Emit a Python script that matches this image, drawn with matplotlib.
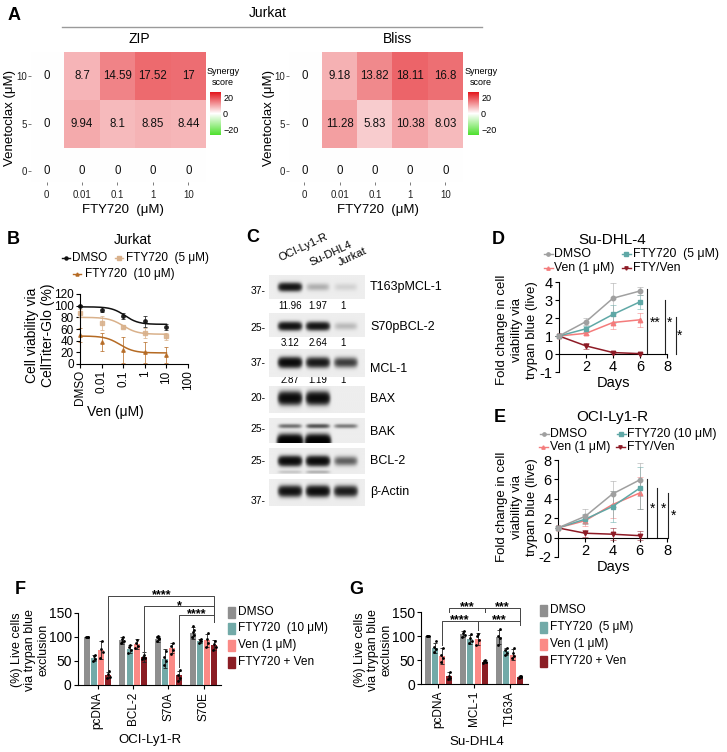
import numpy as np
import matplotlib
matplotlib.use("Agg")
import matplotlib.pyplot as plt
from matplotlib import font_manager
from matplotlib.colors import LinearSegmentedColormap, Normalize
from matplotlib.cm import ScalarMappable
from matplotlib.patches import Rectangle

W, H = 727, 752
_names = {f.name for f in font_manager.fontManager.ttflist}
SANS = "Liberation Sans" if "Liberation Sans" in _names else "DejaVu Sans"
NARROW = "Liberation Sans Narrow" if "Liberation Sans Narrow" in _names else SANS
plt.rcParams["font.family"] = [SANS, "DejaVu Sans"]
plt.rcParams["axes.unicode_minus"] = False
plt.rcParams["axes.linewidth"] = 0.8
plt.rcParams["xtick.major.width"] = 0.8
plt.rcParams["ytick.major.width"] = 0.8

# ======================= DATA =======================
# --- A: synergy heatmaps (rows: Ven 0, 5, 10 ; cols: FTY720 doses)
fty_doses = ["0", "0.01", "0.1", "1", "10"]
ven_doses = ["0", "5", "10"]
zip_scores = [[0, 0, 0, 0, 0], [0, 9.94, 8.1, 8.85, 8.44], [0, 8.7, 14.59, 17.52, 17]]
bliss_scores = [[0, 0, 0, 0, 0], [0, 11.28, 5.83, 10.38, 8.03], [0, 9.18, 13.82, 18.11, 16.8]]
synergy_ticks = [20, 0, -20]
synergy_ticklabels = ["20", "0", "\u221220"]

# --- B: Jurkat dose response
b_conc = [0.001, 0.01, 0.1, 1, 10]
b_tick_vals = [0.001, 0.01, 0.1, 1, 10, 100]
b_tick_labels = ["DMSO", "0.01", "0.1", "1", "10", "100"]
b_series = ["DMSO", "FTY720  (5 \u03bcM)", "FTY720  (10 \u03bcM)"]
b_mean = [[99, 93, 82, 73, 63], [88, 70, 64, 53, 48], [50, 38, 24, 20, 16]]
b_sd = [[2, 4, 5, 9, 5], [7, 12, 3, 9, 6], [12, 16, 23, 18, 14]]
b_top = [98, 80, 48]
b_bottom = [68, 51, 19]
b_ec50 = [0.12, 0.1, 0.07]
b_hill = [1.4, 1.3, 1.3]

# --- C: western blot
blot_lanes = ["OCI-Ly1-R", "Su-DHL4", "Jurkat"]
blot_targets = ["T163pMCL-1", "S70pBCL-2", "MCL-1", "BAX", "BAK", "BCL-2", "\u03b2-Actin"]
blot_kda = ["37-", "25-", "37-", "20-", "25-", "25-", "37-"]
band_main = [[0.8, 0.1, 0.04], [0.85, 0.8, 0.08], [1.0, 0.75, 0.45], [1.0, 1.0, 0.0],
             [0.25, 0.35, 0.22], [1.0, 1.0, 0.3], [0.85, 0.95, 0.7]]
band_extra = [None, None, None, None, [1.6, 1.6, 0.0], [0.06, 0.1, 0.0], None]
blot_quant = [["11.96", "1.97", "1"], ["3.12", "2.64", "1"], ["2.87", "1.19", "1"],
              None, None, None, None]

# --- D / E: fold change over days
days = [0, 2, 4, 6]
d_mean = [[1, 1.8, 3.1, 3.5], [1, 1.4, 2.2, 2.9], [1, 1.15, 1.75, 1.9], [1, 0.45, 0.08, 0.02]]
d_sd = [[0, 0.2, 0.85, 0.2], [0, 0.15, 0.5, 0.4], [0, 0.1, 0.35, 0.4], [0, 0.15, 0.05, 0.03]]
e_mean = [[1, 2.2, 4.5, 5.95], [1, 1.9, 3.2, 5.1], [1, 1.75, 3.4, 4.6], [1, 0.45, 0.35, 0.2]]
e_sd = [[0, 0.7, 1.3, 1.7], [0, 0.5, 1.6, 2.2], [0, 0.6, 1.4, 1.6], [0, 0.35, 0.6, 0.45]]

# --- F: OCI-Ly1-R live cells
f_groups = ["pcDNA", "BCL-2", "S70A", "S70E"]
f_labels = ["DMSO", "FTY720  (10 \u03bcM)", "Ven (1 \u03bcM)", "FTY720 + Ven"]
f_mean = [[100, 93, 96, 108], [57, 75, 55, 92], [73, 85, 77, 93], [21, 58, 20, 83]]
f_sd = [[0, 7, 6, 12], [6, 8, 20, 4], [18, 10, 10, 13], [7, 10, 10, 10]]
f_pts = [
    [[100, 100, 100, 100], [88, 91, 96, 100, 90], [92, 96, 100, 98, 103], [100, 105, 110, 115, 122]],
    [[50, 55, 60, 63], [66, 72, 80, 84], [42, 50, 58, 70], [88, 91, 93, 95]],
    [[57, 68, 76, 92], [78, 82, 88, 93], [65, 73, 82, 88], [80, 88, 95, 108]],
    [[14, 17, 22, 30], [55, 57, 58, 62], [9, 15, 21, 32], [72, 80, 85, 92]],
]

# --- G: Su-DHL4 live cells
g_groups = ["pcDNA", "MCL-1", "T163A"]
g_labels = ["DMSO", "FTY720  (5 \u03bcM)", "Ven (1 \u03bcM)", "FTY720 + Ven"]
g_mean = [[100, 104, 98], [75, 93, 68], [58, 94, 61], [16, 46, 15]]
g_sd = [[0, 6, 14], [10, 10, 8], [17, 12, 12], [8, 3, 2]]
g_pts = [
    [[100, 100, 100, 100], [98, 102, 106, 110], [82, 95, 100, 115]],
    [[66, 72, 78, 90], [85, 90, 95, 105], [61, 65, 70, 76]],
    [[45, 55, 60, 75], [82, 92, 100, 104], [55, 58, 64, 75]],
    [[10, 13, 16, 25], [43, 45, 47, 49], [13, 15, 16, 17]],
]

# ======================= STYLE =======================
BAR_COLORS = ["#8f8f8f", "#72aaa8", "#fb8a86", "#8b1d24"]
DE_COLORS = ["#a0a0a0", "#5fa8a6", "#f47c7c", "#8e1b26"]
DE_MARKERS = ["o", "s", "^", "v"]
B_COLORS = ["#111111", "#d9b18b", "#b56a23"]
B_MARKERS = ["o", "s", "^"]

fig = plt.figure(figsize=(W / 100, H / 100), dpi=100)


def px_axes(l, t, r, b):
    return fig.add_axes([l / W, 1 - b / H, (r - l) / W, (b - t) / H])


ov = px_axes(0, 0, W, H)
ov.set_xlim(0, W)
ov.set_ylim(H, 0)
ov.axis("off")


def T(x, y, s, **kw):
    kw.setdefault("ha", "center")
    kw.setdefault("va", "center")
    ov.text(x, y, s, **kw)


for letter, (x, y) in zip("ABCDEFG", [(14, 15), (13, 240), (253, 238), (498, 240),
                                       (500, 417), (20, 590), (356, 590)]):
    T(x, y, letter, fontsize=13, fontweight="bold")

# ======================= A =======================
cmap = LinearSegmentedColormap.from_list("syn", ["#4ee02e", "#ffffff", "#e3161d"])
norm = Normalize(-27.5, 27.5)

T(268, 13, "Jurkat", fontsize=10, family=NARROW)
ov.plot([62, 482], [27, 27], color="#9a9a9a", lw=1)


def heatmap(left, right, scores, title, title_x, cb_left, xlab_x, ylab_x):
    ax = px_axes(left, 52, right, 182)
    arr = np.array(scores, dtype=float)
    ax.imshow(arr, cmap=cmap, norm=norm, origin="lower", extent=(-0.5, 4.5, -0.5, 2.5),
              aspect="auto", interpolation="nearest")
    ax.set_xlim(-0.44, 4.5)
    ax.set_ylim(-0.22, 2.5)
    for i in range(arr.shape[0]):
        for j in range(arr.shape[1]):
            ax.text(j, i, f"{arr[i, j]:g}", ha="center", va="center", fontsize=8.3,
                    family=NARROW, color="#111")
    ax.set_xticks(range(len(fty_doses)), fty_doses, family=NARROW)
    ax.set_yticks(range(len(ven_doses)), ven_doses, family=NARROW)
    ax.tick_params(length=2, width=0.6, color="#666", labelsize=7, labelcolor="#222", pad=1)
    ax.tick_params(axis="x", pad=4)
    for s in ax.spines.values():
        s.set_visible(False)
    cax = px_axes(cb_left, 92, cb_left + 11, 135)
    cb = fig.colorbar(ScalarMappable(norm=norm, cmap=cmap), cax=cax)
    cb.outline.set_visible(False)
    cb.set_ticks(synergy_ticks, labels=synergy_ticklabels)
    cax.tick_params(length=0, labelsize=6.5, pad=1.5)
    for lab in cax.get_yticklabels():
        lab.set_family(NARROW)
    T(cb_left + 13, 77, "Synergy\nscore", fontsize=6.5, family=NARROW, linespacing=1.4)
    T(title_x, 39, title, fontsize=10, family=NARROW)
    T(xlab_x, 210, "FTY720  (\u03bcM)", fontsize=9.5, family=NARROW)
    T(ylab_x, 118, "Venetoclax (\u03bcM)", fontsize=9.5, family=NARROW, rotation=90)


heatmap(31, 206, zip_scores, "ZIP", 139, 210, 123, 10)
heatmap(289, 463, bliss_scores, "Bliss", 398, 468, 378, 269)

# ======================= B =======================
T(133, 240, "Jurkat", fontsize=10)
axb = px_axes(80, 294, 188, 364)
xs = np.logspace(-3, 1, 200)
for k in range(3):
    fit = b_bottom[k] + (b_top[k] - b_bottom[k]) / (1 + (xs / b_ec50[k]) ** b_hill[k])
    axb.plot(xs, fit, color=B_COLORS[k], lw=1.1, clip_on=False)
    axb.errorbar(b_conc, b_mean[k], yerr=b_sd[k], fmt=B_MARKERS[k], ms=2.5, color=B_COLORS[k],
                 ecolor=B_COLORS[k], elinewidth=0.6, capsize=1.5, capthick=0.6, alpha=0.85,
                 clip_on=False)
axb.set_xscale("log")
axb.set_xlim(0.001, 100)
axb.set_ylim(0, 120)
axb.set_yticks(range(0, 121, 20))
axb.set_xticks(b_tick_vals, b_tick_labels, rotation=90)
axb.minorticks_off()
axb.tick_params(labelsize=8.5, length=3, pad=1.5)
axb.spines[["top", "right"]].set_visible(False)
T(115, 412, "Ven (\u03bcM)", fontsize=10)
T(40, 335, "Cell viability via\nCellTiter-Glo (%)", fontsize=10, rotation=90,
  multialignment="center", linespacing=1.25)
for (hx, hy, tx), k in zip([(66, 258, 72), (119, 258, 126), (77, 274, 85)], range(3)):
    ov.plot([hx - 4, hx + 4], [hy, hy], color=B_COLORS[k], lw=1)
    ov.plot([hx], [hy], B_MARKERS[k], ms=2.2, color=B_COLORS[k])
    T(tx, hy, b_series[k], ha="left", fontsize=8.5)

# ======================= C =======================
blot_tops = [275, 313, 349, 386, 418, 448, 479]
blot_bots = [299, 337, 377, 413, 443, 474, 506]
main_y = [0.5, 0.55, 0.5, 0.45, 0.32, 0.5, 0.45]
main_sy = [0.15, 0.15, 0.15, 0.2, 0.08, 0.16, 0.17]
extra_y = [None, None, None, None, 0.95, 0.93, None]
extra_sy = [None, None, None, None, 0.22, 0.06, None]
kda_y = [291, 328, 363, 398, 429, 461, 501]
tgt_y = [287, 327, 369, 399, 432, 461, 492]
quant_y = [306, 343, 380]
lane_px = [290, 318, 346]

nx, ny = 240, 60
gx_ = np.linspace(-0.75, 2.68, nx)
gy_ = np.linspace(0, 1, ny)
XX, YY = np.meshgrid(gx_, gy_)
for r in range(len(blot_targets)):
    dens = np.zeros_like(XX)
    for i, lvl in enumerate(band_main[r]):
        dens += lvl * np.exp(-((XX - i) / 0.4) ** 6) * np.exp(-((YY - main_y[r]) / main_sy[r]) ** 2)
        if band_extra[r] is not None:
            dens += band_extra[r][i] * np.exp(-((XX - i) / 0.42) ** 6) * \
                np.exp(-((YY - extra_y[r]) / extra_sy[r]) ** 2)
    img = 0.93 * np.exp(-3.0 * dens)
    axc = px_axes(269, blot_tops[r], 365, blot_bots[r])
    axc.imshow(img, extent=(-0.75, 2.68, 1, 0), aspect="auto", cmap="gray", vmin=0, vmax=1,
               interpolation="bilinear")
    axc.axis("off")
    T(266, kda_y[r], blot_kda[r], ha="right", fontsize=7.5)
    T(370, tgt_y[r], blot_targets[r], ha="left", fontsize=9)
    if blot_quant[r] is not None:
        for i, q in enumerate(blot_quant[r]):
            T(lane_px[i] - (3 if i == 2 else 0), quant_y[r], q, fontsize=7)
for (lx, ly), name in zip([(281, 263), (312, 268), (341, 268)], blot_lanes):
    T(lx, ly, name, ha="left", va="bottom", rotation=25, rotation_mode="anchor", fontsize=8)

# ======================= D / E =======================


def growth(box, ylim, yticks, mean, sd, sig, title, ty, leg, fty_label, ylab_y, days_y):
    ax = px_axes(*box)
    for k in range(4):
        ax.errorbar(days, mean[k], yerr=sd[k], color=DE_COLORS[k], marker=DE_MARKERS[k], ms=3.2,
                    lw=1.1, elinewidth=0.6, capsize=2, capthick=0.6, ecolor=DE_COLORS[k] + "99",
                    clip_on=False, zorder=3 - k * 0.1)
    ax.set_xlim(0, 8)
    ax.set_ylim(*ylim)
    ax.set_yticks(yticks)
    ax.set_xticks([2, 4, 6, 8])
    ax.spines[["top", "right"]].set_visible(False)
    ax.spines["bottom"].set_position(("data", 0))
    ax.spines["bottom"].set_bounds(0, 8)
    ax.tick_params(labelsize=10.5, length=3, pad=1.5)
    for (x, ytop, sx, sy, s) in sig:
        ax.plot([x, x], [0, ytop], color="#222", lw=0.8, clip_on=False)
        ax.text(sx, sy, s, ha="center", va="center", fontsize=10, clip_on=False)
    T(612, ty, title, fontsize=11)
    names = ["DMSO", fty_label, "Ven (1 \u03bcM)", "FTY/Ven"]
    for k, (hx, hy, tx) in enumerate(leg):
        ov.plot([hx - 4.5, hx + 4.5], [hy, hy], color=DE_COLORS[k], lw=1)
        ov.plot([hx], [hy], DE_MARKERS[k], ms=2.4, color=DE_COLORS[k])
        T(tx, hy, names[k], ha="left", fontsize=8.8)
    T(517, ylab_y, "Fold change in cell\nviability via\ntrypan blue (live)", fontsize=9.5,
      rotation=90, multialignment="center", linespacing=1.3)
    T(613, days_y, "Days", fontsize=10.5)
    return ax


growth((559, 282, 667, 372), (-1, 4), range(-1, 5), d_mean, d_sd,
       [(6.52, 3.6, 7.1, 1.75, "**"), (7.85, 3.0, 8.15, 1.75, "*"), (8.67, 2.05, 8.96, 1.0, "*")],
       "Su-DHL-4", 240, [(548, 254, 554), (626, 254, 633), (548, 268, 554), (626, 268, 633)],
       "FTY720  (5 \u03bcM)", 330, 383)
growth((558, 460, 667, 557), (-2, 8), range(-2, 9, 2), e_mean, e_sd,
       [(6.5, 6.0, 6.95, 3.0, "*"), (7.3, 5.1, 7.75, 3.0, "*"), (8.1, 4.6, 8.5, 2.3, "*")],
       "OCI-Ly1-R", 417, [(544, 434, 550), (621, 434, 627), (543, 447, 550), (620, 447, 627)],
       "FTY720 (10 \u03bcM)", 507, 567)

# ======================= F / G =======================
OFFS = [-0.3, -0.1, 0.1, 0.3]
JIT = [-0.035, 0.035, -0.015, 0.02, 0.0]


def bars(box, xlim, groups, mean, sd, pts, labels, brackets, leg_x, leg_y, xlab, xlab_xy, ylab_x):
    ax = px_axes(*box)
    n = len(groups)
    for k in range(4):
        xs = np.arange(n) + OFFS[k]
        ax.bar(xs, mean[k], width=0.17, color=BAR_COLORS[k], zorder=1)
        ax.errorbar(xs, mean[k], yerr=sd[k], fmt="none", ecolor="#222", elinewidth=0.6,
                    capsize=1.5, capthick=0.6, zorder=2)
        for g in range(n):
            p = pts[k][g]
            ax.scatter([xs[g] + JIT[i] for i in range(len(p))], p, s=4, color="black",
                       zorder=3, clip_on=False, linewidths=0)
    ax.set_xlim(*xlim)
    ax.set_ylim(0, 150)
    ax.set_yticks([0, 50, 100, 150])
    ax.set_xticks(range(n), groups, rotation=90)
    ax.spines[["top", "right"]].set_visible(False)
    ax.tick_params(axis="y", labelsize=10, length=3, pad=1.5)
    ax.tick_params(axis="x", labelsize=8.5, length=3, pad=2)
    for (x1, x2, ytop, y1, y2, s) in brackets:
        ax.plot([x1, x1, x2, x2], [y1, ytop, ytop, y2], color="#444", lw=0.7, clip_on=False)
        ax.text((x1 + x2) / 2, ytop - 5, s, ha="center", va="baseline", fontsize=9,
                fontweight="bold", clip_on=False)
    for k in range(4):
        ov.add_patch(Rectangle((leg_x, leg_y[k] - 5.5), 6.5, 11, color=BAR_COLORS[k]))
        T(leg_x + 10, leg_y[k], labels[k], ha="left", fontsize=8.6)
    T(xlab_xy[0], xlab_xy[1], xlab, fontsize=9.5)
    T(ylab_x, 650, "(%) Live cells\nvia trypan blue\nexclusion", fontsize=9, rotation=90,
      multialignment="center", linespacing=1.12)


bars((78, 613, 221, 685), (-0.56, 3.49), f_groups, f_mean, f_sd, f_pts, f_labels,
     [(0.3, 3.3, 185, 31, 131, "****"), (1.3, 3.3, 164, 69, 131, "*"),
      (2.3, 3.3, 146, 37, 131, "****")],
     228, [612, 628, 645, 662], "OCI-Ly1-R", (150, 740), 30)
bars((421, 612, 528, 684), (-0.49, 2.52), g_groups, g_mean, g_sd, g_pts, g_labels,
     [(0.3, 1.3, 158, 150, 150, "***"), (1.3, 2.3, 158, 150, 131, "***"),
      (0.1, 1.1, 131, 82, 112, "****"), (1.1, 2.3, 131, 112, 123, "***")],
     540, [610, 627, 644, 661], "Su-DHL4", (477, 742), 373)

fig.savefig("out.png", dpi=100, facecolor="white")
